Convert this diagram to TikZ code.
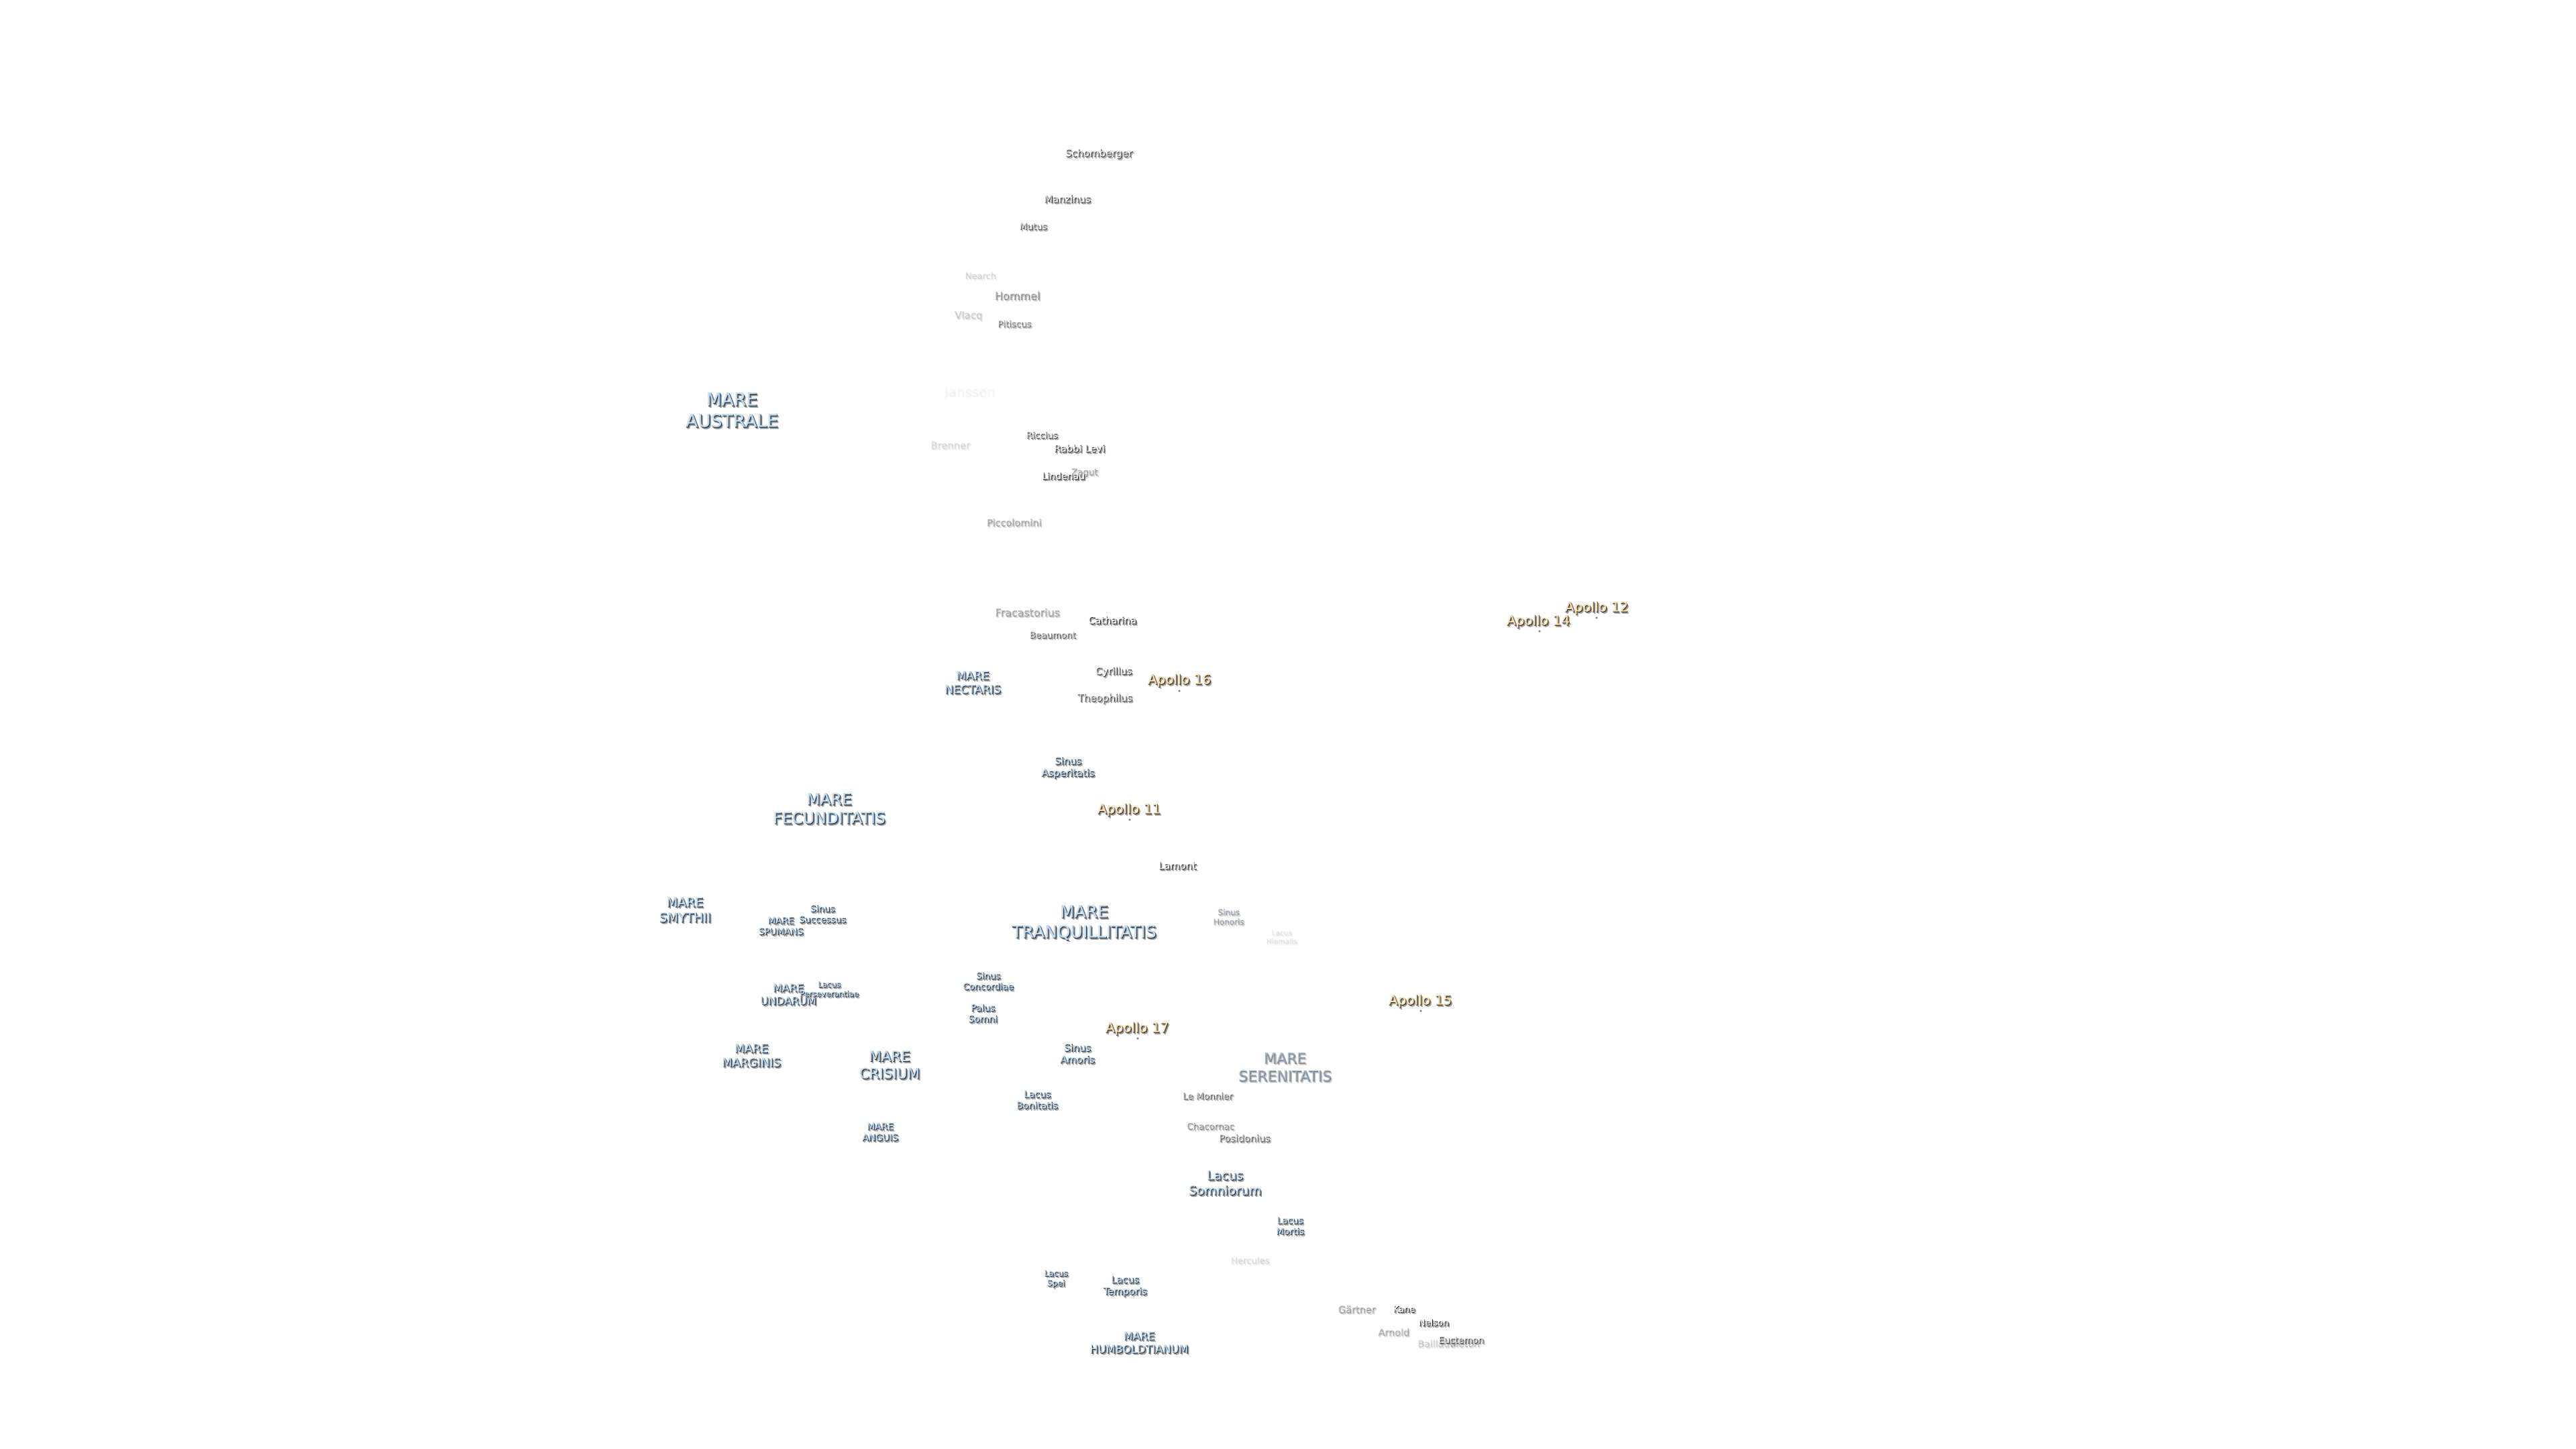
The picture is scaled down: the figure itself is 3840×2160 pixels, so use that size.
\documentclass[tikz,border=0pt]{standalone}
\usepackage{fontspec}
\setmainfont{DejaVu Sans}
\newfontfamily\moonfill[FakeBold=0.3]{DejaVu Sans}
\newfontfamily\moondark[FakeBold=1.3]{DejaVu Sans}
\newfontfamily\moonblur[FakeBold=1.8]{DejaVu Sans}
\usepackage{tikz}
\usetikzlibrary{positioning}

\definecolor{maretext}{HTML}{BDDDF9}
\definecolor{cratertext}{HTML}{F8F8F8}
\definecolor{apollotext}{HTML}{FCE0AE}

\tikzset{
  moon/.style={inner sep=0pt, align=center, font=\fontsize{#1}{1.2\dimexpr#1pt\relax}\selectfont},
  mare/.style={text=maretext, execute at begin node=\moonfill},
  crater/.style={text=cratertext, execute at begin node=\moonfill},
  apollo/.style={text=apollotext, execute at begin node=\moonfill},
  site/.style={circle, fill=apollotext!60!black, draw=black!60, line width=0.5pt, minimum size=4pt, inner sep=0pt},
  shadowblur/.style={text=black!40, execute at begin node=\moonblur},
  shadowdark/.style={text=black!88, execute at begin node=\moondark}
}

% #1 looks, #2 name, #3 position, #4 text
\newcommand{\moonlabel}[4][]{
  \node[#1, shadowblur, shift={(2.4,1.8)}] (#2-blur) at (#3) {#4};
  \node[#1, shadowdark, shift={(0.8,0)}] (#2-dark) at (#3) {#4};
  \node[#1, shift={(0,-1)}] (#2) at (#3) {#4};
}

\begin{document}
\begin{tikzpicture}[x=0.05cm, y=-0.05cm]
    \useasboundingbox (0,0) rectangle (3840,2160);

    % maria, lakes, bays
    \moonlabel[moon=37.8, mare]{australe}{1091,612}{MARE\\AUSTRALE}
    \moonlabel[moon=24.2, mare]{nectaris}{1450,1018}{MARE\\NECTARIS}
    \moonlabel[moon=21, mare]{asperitatis}{1592,1145}{Sinus\\Asperitatis}
    \moonlabel[moon=33.4, mare]{fecunditatis}{1236,1206}{MARE\\FECUNDITATIS}
    \moonlabel[moon=35.6, mare]{tranquillitatis}{1616,1376}{MARE\\TRANQUILLITATIS}
    \moonlabel[moon=17, mare, opacity=0.4]{honoris}{1831,1367}{Sinus\\Honoris}
    \moonlabel[moon=15.2, mare, opacity=0.1]{hiemalis}{1910,1397}{Lacus\\Hiemalis}
    \moonlabel[moon=27, mare]{smythii}{1021,1357}{MARE\\SMYTHII}
    \moonlabel[moon=19.2, mare]{successus}{1226,1363}{Sinus\\Successus}
    \moonlabel[moon=19.3, mare]{spumans}{1164,1381}{MARE\\SPUMANS}
    \moonlabel[moon=22.8, mare]{undarum}{1175,1483}{MARE\\UNDARUM}
    \moonlabel[moon=16.6, mare]{perseverantiae}{1236,1475}{Lacus\\Perseverantiae}
    \moonlabel[moon=19, mare]{concordiae}{1473,1463}{Sinus\\Concordiae}
    \moonlabel[moon=19.6, mare]{somni}{1465,1511}{Palus\\Somni}
    \moonlabel[moon=21, mare]{amoris}{1606,1571}{Sinus\\Amoris}
    \moonlabel[moon=24.9, mare]{marginis}{1120,1574}{MARE\\MARGINIS}
    \moonlabel[moon=30.4, mare]{crisium}{1326,1588}{MARE\\CRISIUM}
    \moonlabel[moon=31.3, mare, opacity=0.5]{serenitatis}{1915,1591}{MARE\\SERENITATIS}
    \moonlabel[moon=19.8, mare]{bonitatis}{1546,1640}{Lacus\\Bonitatis}
    \moonlabel[moon=19.6, mare]{anguis}{1312,1688}{MARE\\ANGUIS}
    \moonlabel[moon=26.7, mare]{somniorum}{1826,1764}{Lacus\\Somniorum}
    \moonlabel[moon=19.2, mare]{mortis}{1923,1828}{Lacus\\Mortis}
    \moonlabel[moon=17.4, mare]{spei}{1574,1907}{Lacus\\Spei}
    \moonlabel[moon=20.5, mare]{temporis}{1677,1918}{Lacus\\Temporis}
    \moonlabel[moon=23, mare]{humboldtianum}{1698,2002}{MARE\\HUMBOLDTIANUM}

    % craters
    \moonlabel[moon=21.2, crater, opacity=0.85]{schomberger}{1638,230}{Schomberger}
    \moonlabel[moon=20.9, crater, opacity=0.9]{manzinus}{1591,297}{Manzinus}
    \moonlabel[moon=19.2, crater, opacity=0.8]{mutus}{1540,338}{Mutus}
    \moonlabel[moon=18.5, crater, opacity=0.15]{nearch}{1461,411}{Nearch}
    \moonlabel[moon=22.8, crater, opacity=0.5]{hommel}{1516,441}{Hommel}
    \moonlabel[moon=21.3, crater, opacity=0.2]{vlacq}{1443,471}{Vlacq}
    \moonlabel[moon=18.9, crater, opacity=0.6]{pitiscus}{1512,483}{Pitiscus}
    \moonlabel[moon=28, crater, opacity=0.04]{janssen}{1445,586}{Janssen}
    \moonlabel[moon=21, crater, opacity=0.15]{brenner}{1416,664}{Brenner}
    \moonlabel[moon=19, crater, opacity=0.85]{riccius}{1553,649}{Riccius}
    \moonlabel[moon=20.8, crater]{rabbilevi}{1609,669}{Rabbi Levi}
    \moonlabel[moon=19, crater, opacity=0.4]{zagut}{1616,705}{Zagut}
    \moonlabel[moon=19.8, crater]{lindenau}{1585,710}{Lindenau}
    \moonlabel[moon=20.6, crater, opacity=0.4]{piccolomini}{1511,779}{Piccolomini}
    \moonlabel[moon=22.6, crater, opacity=0.4]{fracastorius}{1531,913}{Fracastorius}
    \moonlabel[moon=21, crater]{catharina}{1658,925}{Catharina}
    \moonlabel[moon=19, crater, opacity=0.7]{beaumont}{1569,947}{Beaumont}
    \moonlabel[moon=21, crater, opacity=0.9]{cyrillus}{1660,1002}{Cyrillus}
    \moonlabel[moon=21.3, crater, opacity=0.8]{theophilus}{1647,1042}{Theophilus}
    \moonlabel[moon=21.2, crater]{lamont}{1755,1291}{Lamont}
    \moonlabel[moon=19.2, crater, opacity=0.7]{lemonnier}{1800,1634}{Le Monnier}
    \moonlabel[moon=19, crater, opacity=0.5]{chacornac}{1804,1679}{Chacornac}
    \moonlabel[moon=20.5, crater, opacity=0.7]{posidonius}{1855,1697}{Posidonius}
    \moonlabel[moon=18.8, crater, opacity=0.15]{hercules}{1863,1879}{Hercules}
    \moonlabel[moon=20.6, crater, opacity=0.4]{gartner}{2022,1952}{Gärtner}
    \moonlabel[moon=18.5, crater]{kane}{2093,1952}{Kane}
    \moonlabel[moon=18.8, crater]{nelson}{2137,1972}{Nelson}
    \moonlabel[moon=20.5, crater, opacity=0.35]{arnold}{2077,1986}{Arnold}
    \moonlabel[moon=20, crater, opacity=0.2]{baillaud}{2141,2003}{Baillaud}
    \moonlabel[moon=20, crater, opacity=0.25]{meton}{2183,2003}{Meton}
    \moonlabel[moon=19, crater, opacity=0.8]{euctemon}{2178,1998}{Euctemon}

    % landing sites
    \moonlabel[moon=28.6, apollo]{apollo16}{1758,1015}{Apollo 16}
    \node[site] (site16) at (1758,1030) {};
    \moonlabel[moon=28.6, apollo]{apollo12}{2380,907}{Apollo 12}
    \node[site] (site12) at (2380,921) {};
    \moonlabel[moon=28.6, apollo]{apollo14}{2293,927}{Apollo 14}
    \node[site] (site14) at (2295,941) {};
    \moonlabel[moon=28.6, apollo]{apollo11}{1683,1208}{Apollo 11}
    \node[site] (site11) at (1684,1222) {};
    \moonlabel[moon=28.6, apollo]{apollo17}{1695,1534}{Apollo 17}
    \node[site] (site17) at (1696,1548) {};
    \moonlabel[moon=28.6, apollo]{apollo15}{2117,1493}{Apollo 15}
    \node[site] (site15) at (2118,1507) {};
\end{tikzpicture}
\end{document}
